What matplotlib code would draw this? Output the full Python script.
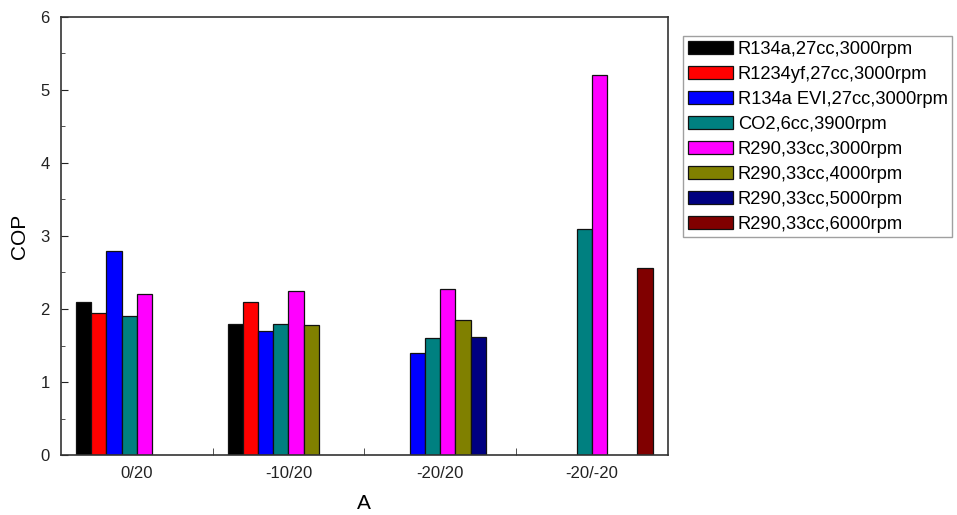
import matplotlib.pyplot as plt
import numpy as np

plt.rcParams["font.family"] = ["Liberation Sans", "DejaVu Sans"]

nan = np.nan

categories = ["0/20", "-10/20", "-20/20", "-20/-20"]

series_labels = [
    "R134a,27cc,3000rpm",
    "R1234yf,27cc,3000rpm",
    "R134a EVI,27cc,3000rpm",
    "CO2,6cc,3900rpm",
    "R290,33cc,3000rpm",
    "R290,33cc,4000rpm",
    "R290,33cc,5000rpm",
    "R290,33cc,6000rpm",
]

r134a = [2.1, 1.8, nan, nan]
r1234yf = [1.95, 2.1, nan, nan]
r134a_evi = [2.8, 1.7, 1.4, nan]
co2 = [1.9, 1.8, 1.6, 3.1]
r290_3000 = [2.2, 2.25, 2.27, 5.21]
r290_4000 = [nan, 1.78, 1.85, nan]
r290_5000 = [nan, nan, 1.61, nan]
r290_6000 = [nan, nan, nan, 2.56]

series = [r134a, r1234yf, r134a_evi, co2, r290_3000, r290_4000, r290_5000, r290_6000]
colors = ["#000000", "#FF0000", "#0000FF", "#008080",
          "#FF00FF", "#808000", "#000080", "#800000"]


def build_chart():
    fig = plt.figure(figsize=(9.57, 5.15), dpi=100)
    ax = fig.add_axes([0.0637, 0.1165, 0.634, 0.8505])

    x = np.arange(len(categories))
    width = 0.1
    handles = []
    for i, (vals, col, lab) in enumerate(zip(series, colors, series_labels)):
        h = ax.bar(x - 0.4 + width * i, vals, width=width, align="edge",
                   color=col, edgecolor="#111111", linewidth=0.9, label=lab)
        handles.append(h)

    ax.set_xlim(-0.5, 3.5)
    ax.set_ylim(0, 6)

    ax.set_xticks(x, labels=categories, fontsize=12)
    ax.set_xticks([0.5, 1.5, 2.5], minor=True)
    ax.tick_params(axis="x", which="major", length=0, pad=8, colors="#222222")
    ax.tick_params(axis="x", which="minor", direction="in", length=5, color="#333333")

    ax.set_yticks(np.arange(0, 7, 1))
    ax.set_yticks(np.arange(0.5, 6, 1), minor=True)
    ax.tick_params(axis="y", which="major", direction="in", length=5,
                   labelsize=12, colors="#222222", pad=8)
    ax.tick_params(axis="y", which="minor", direction="in", length=3, color="#333333")

    for s in ax.spines.values():
        s.set_color("#333333")
        s.set_linewidth(1.2)

    ax.set_xlabel("A", fontsize=15, labelpad=9)
    ax.set_ylabel("COP", fontsize=15, labelpad=8)

    leg = fig.legend(handles=handles, loc="upper left",
                     bbox_to_anchor=(683 / 957, 1 - 36 / 515),
                     fontsize=13.2, frameon=True, fancybox=False,
                     edgecolor="#888888", handlelength=2.45, handleheight=0.75,
                     handletextpad=0.28, labelspacing=0.43, borderpad=0.25,
                     borderaxespad=0)
    leg.get_frame().set_linewidth(1.0)

    fig.savefig("out.png", dpi=100)


if __name__ == "__main__":
    build_chart()
